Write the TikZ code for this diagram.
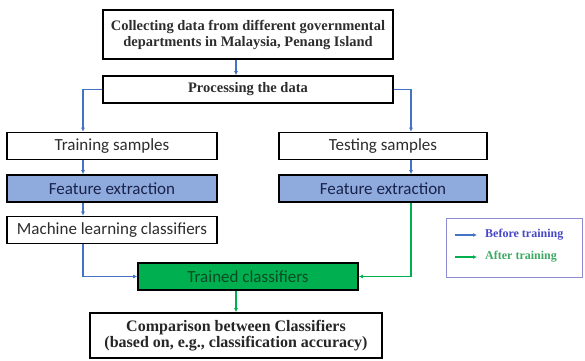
\documentclass[tikz,border=0pt]{standalone}
\usepackage{fontspec}
\setmainfont{Liberation Serif}
\newfontfamily\calibri{Carlito}
\usetikzlibrary{arrows.meta}
\definecolor{flowblue}{RGB}{68, 114, 196}
\definecolor{flowgreen}{RGB}{0, 176, 80}
\definecolor{featfill}{RGB}{143, 170, 220}
\definecolor{feattext}{RGB}{25, 35, 75}
\definecolor{trainedtext}{RGB}{10, 75, 35}
\definecolor{boxtext}{RGB}{45, 45, 45}
\definecolor{legblue}{RGB}{70, 70, 200}
\definecolor{leggreen}{RGB}{60, 170, 100}
\definecolor{legframe}{RGB}{140, 140, 210}
\tikzset{
    serifbox/.style={draw=black, line width=1.6pt, fill=white,
                inner sep=0pt, align=center, text=boxtext,
                font=\fontsize{14.5}{16}\selectfont\bfseries},
    sansbox/.style={draw=black, line width=1.6pt, fill=#1,
                inner sep=0pt, minimum height=27pt, align=center,
                font=\calibri\fontsize{17}{18}\selectfont},
    flowarr/.style={-{Latex[length=4pt, width=4pt]}, line width=1.4pt, #1},
    leglbl/.style={anchor=west, inner sep=0pt, text=#1,
                font=\fontsize{12}{14}\selectfont\bfseries},
}

\begin{document}
\begin{tikzpicture}[x=1pt, y=-1pt]
    \useasboundingbox (0, 0) rectangle (585, 360);

    \coordinate (lcol) at (83, 0);
    \coordinate (rcol) at (411, 0);

    \node[serifbox, minimum width=290pt, minimum height=49pt] (collect) at (248, 34.5)
        {Collecting data from different governmental\\departments in Malaysia, Penang Island};
    \node[serifbox, minimum width=290pt, minimum height=27pt] (proc) at (248, 89.5) {Processing the data};

    \node[sansbox=white, minimum width=210pt, text=boxtext] (train) at (112, 146) {Training samples};
    \node[sansbox=featfill, minimum width=210pt, text=feattext] (fetrain) at (112, 188.5) {Feature extraction};
    \node[sansbox=white, minimum width=210pt, text=boxtext] (ml) at (112, 230) {Machine learning classifiers};

    \node[sansbox=white, minimum width=208pt, text=boxtext] (test) at (383, 146) {Testing samples};
    \node[sansbox=featfill, minimum width=208pt, text=feattext] (fetest) at (383, 188.5) {Feature extraction};

    \node[sansbox=flowgreen, minimum width=220pt, text=trainedtext] (trained) at (248, 276.5) {Trained classifiers};
    \node[serifbox, minimum width=292pt, minimum height=45pt,
          font=\fontsize{16}{16}\selectfont\bfseries, text=black!85] (compare) at (236, 335.5)
        {Comparison between Classifiers\\(based on, e.g., classification accuracy)};

    \draw[flowarr=flowblue] (collect.south -| compare.north) -- (proc.north -| compare.north);
    \draw[flowarr=flowblue] (proc.west) -| (train.north -| lcol);
    \draw[flowarr=flowblue] (proc.east) -| (test.north -| rcol);

    \draw[flowarr=flowblue] (train.south -| lcol) -- (fetrain.north -| lcol);
    \draw[flowarr=flowblue] (fetrain.south -| lcol) -- (ml.north -| lcol);
    \draw[flowarr=flowblue] (ml.south -| lcol) |- (trained.west);

    \draw[flowarr=flowblue] (test.south -| rcol) -- (fetest.north -| rcol);
    \draw[flowarr=flowgreen] (fetest.south -| rcol) |- (trained.east);
    \draw[flowarr=flowgreen] (trained.south -| compare.north) -- (compare.north);

    % legend
    \node[draw=legframe, line width=0.8pt, minimum width=136pt, minimum height=59pt] (legend) at (514, 248) {};
    \node[leglbl=legblue] (before) at (485, 235) {Before training};
    \node[leglbl=leggreen] (after) at (485, 257) {After training};
    \coordinate (b0) at (455, 235);
    \coordinate (a0) at (455, 257);
    \draw[flowarr=flowblue, line width=1.2pt] (b0) -- ([xshift=-8pt]before.west);
    \draw[flowarr=flowgreen, line width=1.2pt] (a0) -- ([xshift=-8pt]after.west);

\end{tikzpicture}
\end{document}
